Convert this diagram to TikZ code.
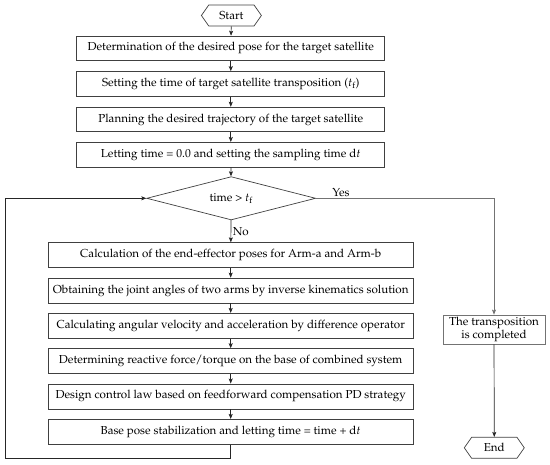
\documentclass[tikz,border=0pt]{standalone}
\usepackage[T1]{fontenc}
\usepackage{mathpazo}
\usetikzlibrary{arrows.meta,shapes.geometric,shapes.symbols}
\tikzset{
  base/.style={draw=black!75, line width=0.7pt, font=\fontsize{11.6}{13.5}\selectfont, inner sep=0pt},
  ubox/.style={base, rectangle, minimum width=308pt, minimum height=24.7pt},
  lbox/.style={base, rectangle, minimum width=364.7pt, minimum height=25pt},
  term/.style={base, signal, signal to=west and east, signal pointer angle=110, minimum width=60pt, minimum height=21pt},
  decis/.style={base, diamond, aspect=4, minimum width=169pt, minimum height=43.3pt},
  tbox/.style={base, rectangle, minimum width=102pt, minimum height=29pt, align=center, font=\fontsize{11.6}{13.8}\selectfont},
  conn/.style={draw=black!85, line width=0.7pt, -{Stealth[length=5pt,width=4pt,inset=1pt]}},
  gconn/.style={conn, draw=black!55},
  lbl/.style={font=\fontsize{11.6}{13.5}\selectfont, inner sep=1.5pt}
}
\begin{document}
\begin{tikzpicture}[x=1pt,y=-1pt]
\useasboundingbox (0,0) rectangle (550,465);
\node[term] (start) at (231.4,15.5) {Start};
\node[ubox] (b1) at (230.8,48.4) {Determination of the desired pose for the target satellite};
\node[ubox] (b2) at (230.8,83.9) {Setting the time of target satellite transposition ($t_{\mathrm{f}}$)};
\node[ubox] (b3) at (230.8,119.5) {Planning the desired trajectory of the target satellite};
\node[ubox] (b4) at (230.8,154.7) {Letting time = 0.0 and setting the sampling time d$t$};
\node[decis] (dia) at (231.2,198.3) {time > $t_{\mathrm{f}}$};
\node[lbox] (b5) at (230.7,255.2) {Calculation of the end-effector poses for Arm-a and Arm-b};
\node[lbox] (b6) at (230.7,290.5) {Obtaining the joint angles of two arms by inverse kinematics solution};
\node[lbox] (b7) at (230.7,325.8) {Calculating angular velocity and acceleration by difference operator};
\node[lbox] (b8) at (230.7,361.1) {Determining reactive force/torque on the base of combined system};
\node[lbox] (b9) at (230.7,396.4) {Design control law based on feedforward compensation PD strategy};
\node[lbox] (b10) at (230.7,431.8) {Base pose stabilization and letting time = time + d$t$};
\node[tbox, draw=black!55] (trans) at (494,329.5) {The transposition\\is completed};
\node[term] (end) at (494.3,447.8) {End};
\coordinate (lb) at (5.7,458.3);
\draw[conn] (start) -- (b1);
\draw[conn] (b1) -- (b2);
\draw[conn] (b2) -- (b3);
\draw[conn] (b3) -- (b4);
\draw[conn] (b4) -- (dia);
\draw[conn] (dia) -- node[lbl, right] (no) {No} (b5);
\draw[conn] (b5) -- (b6);
\draw[conn] (b6) -- (b7);
\draw[conn] (b7) -- (b8);
\draw[conn] (b8) -- (b9);
\draw[conn] (b9) -- (b10);
\draw[conn] (b10.south) |- (lb) |- (dia.west);
\draw[gconn] (dia.east) -| node[lbl, above, pos=0.07] (yes) {Yes} (trans.north);
\draw[conn] (trans) -- (end);
\end{tikzpicture}
\end{document}
